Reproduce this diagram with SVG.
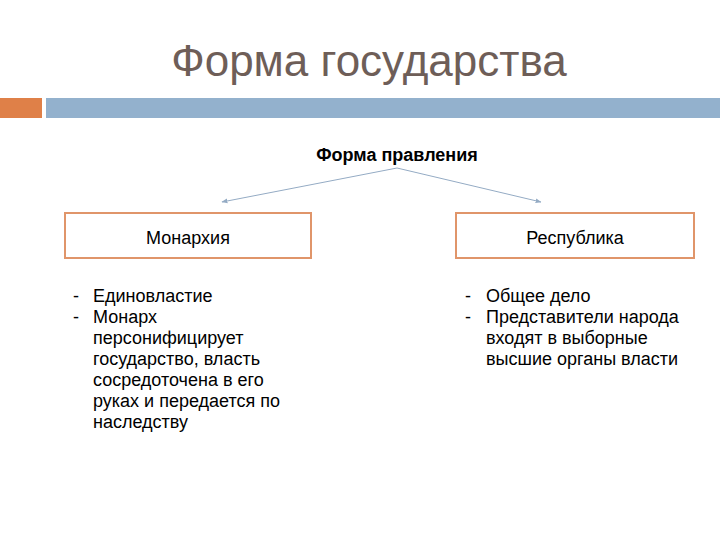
<svg xmlns="http://www.w3.org/2000/svg" width="720" height="540" viewBox="0 0 720 540">
<defs>
<style>
.t{font-family:"Liberation Sans",Arial,sans-serif;fill:#000}
.box{fill:#fff;stroke:#e0956a;stroke-width:2}
.li{font-size:18px}
.con{stroke:#94abc4;stroke-width:1;fill:none}
</style>
<marker id="ah" viewBox="0 0 10 10" refX="9" refY="5" markerWidth="6" markerHeight="6" orient="auto">
<path d="M0,1 L10,5 L0,9 z" fill="#94abc4"/>
</marker>
</defs>
<rect width="720" height="540" fill="#fff"/>
<text x="369" y="76" text-anchor="middle" class="t" style="font-size:44px;fill:#6e5e58">Форма государства</text>
<rect x="0" y="98" width="42" height="20" fill="#df8048"/>
<rect x="46" y="98" width="674" height="20" fill="#93b1cd"/>
<g id="head">
<text x="397" y="161" text-anchor="middle" class="t" style="font-size:18px;font-weight:bold">Форма правления</text>
</g>
<g id="connectors">
<line class="con" x1="397" y1="168" x2="222" y2="202" marker-end="url(#ah)"/>
<line class="con" x1="397" y1="168" x2="541" y2="202" marker-end="url(#ah)"/>
</g>
<g id="monarchy">
<rect class="box" x="65" y="213" width="246" height="45"/>
<text x="188" y="244" text-anchor="middle" class="t" style="font-size:18px">Монархия</text>
</g>
<g id="republic">
<rect class="box" x="456" y="213" width="238" height="45"/>
<text x="575" y="244" text-anchor="middle" class="t" style="font-size:18px">Республика</text>
</g>
<g id="monarchy-list" class="t li">
<text x="73" y="302">-</text>
<text x="93" y="302">Единовластие</text>
<text x="73" y="323">-</text>
<text x="93" y="323">Монарх</text>
<text x="93" y="344">персонифицирует</text>
<text x="93" y="365">государство, власть</text>
<text x="93" y="386">сосредоточена в его</text>
<text x="93" y="407">руках и передается по</text>
<text x="93" y="428">наследству</text>
</g>
<g id="republic-list" class="t li">
<text x="465" y="302">-</text>
<text x="486" y="302">Общее дело</text>
<text x="465" y="323">-</text>
<text x="486" y="323">Представители народа</text>
<text x="486" y="344">входят в выборные</text>
<text x="486" y="365">высшие органы власти</text>
</g>
</svg>
